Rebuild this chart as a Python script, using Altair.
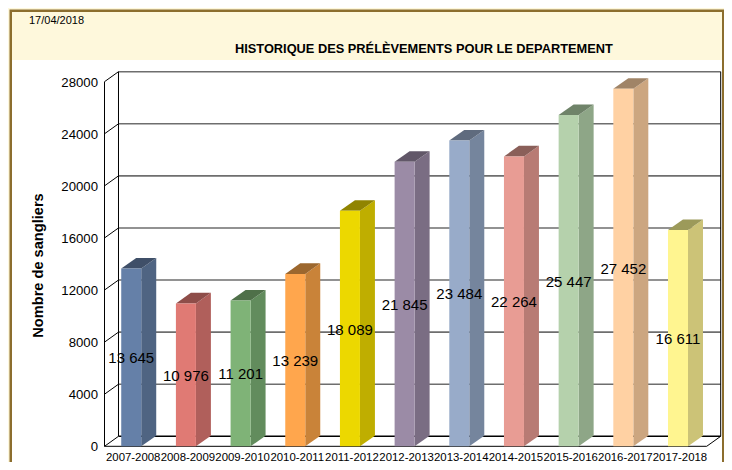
import altair as alt
import pandas as pd

SEASONS = ["2007-2008", "2008-2009", "2009-2010", "2010-2011", "2011-2012", "2012-2013",
           "2013-2014", "2014-2015", "2015-2016", "2016-2017", "2017-2018"]
VALUES = [13645, 10976, 11201, 13239, 18089, 21845, 23484, 22264, 25447, 27452, 16611]
FRONT = ["#6580a8", "#e07a74", "#7fb377", "#ffa64d", "#ecd800", "#9b8ba6",
         "#98abc9", "#e89c94", "#b5d1ac", "#ffd1a3", "#fff590"]
SIDE = ["#4f6482", "#b05f5b", "#628c5d", "#c98339", "#bfae00", "#7a6d83",
        "#75859d", "#b87b74", "#8ea687", "#cca680", "#ccc377"]
TOP = ["#3f4f68", "#8e4d49", "#4f7049", "#9c672e", "#908400", "#615768",
       "#5f6b7e", "#8a5f59", "#6f8369", "#a08467", "#9c9a5a"]
Y_TICKS = [0, 4000, 8000, 12000, 16000, 20000, 24000, 28000]

CREAM = "#fef8dc"
BROWN = "#8c6e2e"
FONT = "Liberation Sans"

# geometry in data units: one category = 1 x unit
X_MAX = 11.27
Y_MAX = 28768
WALL_DX, WALL_DY = 0.256, 768
BAR_OFF, BAR_W = 0.306, 0.366
DEPTH_X, DEPTH_Y = 0.274, 810
N = len(SEASONS)
FLOOR_END = X_MAX - WALL_DX
LABEL_SHIFT = 0.525

x_scale = alt.Scale(domain=[0, X_MAX], range=[96.5, 712.7], nice=False, zero=False)
y_scale = alt.Scale(domain=[0, Y_MAX], range=[438.3, 63.7], nice=False, zero=False)


def X(field="x", **kw):
    kw.setdefault("axis", None)
    return alt.X(field, type="quantitative", scale=x_scale, **kw)


def Y(field="y", **kw):
    kw.setdefault("axis", None)
    return alt.Y(field, type="quantitative", scale=y_scale, stack=None, **kw)


def box(x0, x1, y0, y1, color):
    return alt.Chart(alt.Data(values=[{"a": 1}])).mark_rect(color=color).encode(
        x=alt.value(x0), x2=alt.value(x1), y=alt.value(y0), y2=alt.value(y1))


def txt(s, x, y, size, **kw):
    return alt.Chart(alt.Data(values=[{"t": s}])).mark_text(
        font=FONT, fontSize=size, color="#000000", baseline="middle", **kw
    ).encode(x=alt.value(x), y=alt.value(y), text="t:N")


side_rows, top_rows, front_rows = [], [], []
for i, v in enumerate(VALUES):
    x0 = i + BAR_OFF
    x1 = x0 + BAR_W
    front_rows.append(dict(x=x0, x2=x1, y=0, y2=v, c=FRONT[i], s=SEASONS[i], m=x0 + BAR_W / 2, h=v / 2,
                           t=f"{v:,}".replace(",", " "), lx=i + LABEL_SHIFT))
    side_rows += [dict(x=x1, y=0, y2=v, c=SIDE[i], k=i),
                  dict(x=x1 + DEPTH_X, y=DEPTH_Y, y2=v + DEPTH_Y, c=SIDE[i], k=i)]
    top_rows += [dict(x=x0, y=v, y2=v, c=TOP[i], k=i),
                 dict(x=x0 + DEPTH_X, y=v, y2=v + DEPTH_Y, c=TOP[i], k=i),
                 dict(x=x1, y=v, y2=v + DEPTH_Y, c=TOP[i], k=i),
                 dict(x=x1 + DEPTH_X, y=v + DEPTH_Y, y2=v + DEPTH_Y, c=TOP[i], k=i)]

front_df = pd.DataFrame(front_rows)
side_df = pd.DataFrame(side_rows)
top_df = pd.DataFrame(top_rows)
tick_df = pd.DataFrame({"y": Y_TICKS, "t": [str(t) for t in Y_TICKS]})

grid_df = pd.DataFrame([dict(x=WALL_DX, x2=X_MAX, y=t + WALL_DY, y2=t + WALL_DY) for t in Y_TICKS[1:]])
diag_df = pd.DataFrame([dict(x=0, x2=WALL_DX, y=t, y2=t + WALL_DY) for t in Y_TICKS])
frame_df = pd.DataFrame([
    dict(x=0, x2=0, y=0, y2=Y_TICKS[-1]),
    dict(x=WALL_DX, x2=WALL_DX, y=WALL_DY, y2=Y_TICKS[-1] + WALL_DY),
    dict(x=X_MAX, x2=X_MAX, y=WALL_DY, y2=Y_TICKS[-1] + WALL_DY),
    dict(x=0, x2=FLOOR_END, y=0, y2=0),
    dict(x=FLOOR_END, x2=X_MAX, y=0, y2=WALL_DY),
])
floor_df = pd.DataFrame([dict(x=WALL_DX, x2=X_MAX, y=WALL_DY, y2=WALL_DY)])


def rules(df, color, width):
    return alt.Chart(df).mark_rule(color=color, strokeWidth=width).encode(x=X(), x2="x2:Q", y=Y(), y2="y2:Q")


def faces(df):
    return alt.Chart(df).mark_area(interpolate="linear", opacity=1).encode(
        x=X(), y=Y(), y2="y2:Q", color=alt.Color("c:N", scale=None), detail="k:N")


fronts = alt.Chart(front_df).mark_rect().encode(
    x=X(), x2="x2:Q", y=Y(), y2="y2:Q", color=alt.Color("c:N", scale=None))
labels = alt.Chart(front_df).mark_text(font=FONT, fontSize=15, color="#000000", baseline="middle", dy=1).encode(
    x=X("m"), y=Y("h"), text="t:N")
x_labels = alt.Chart(front_df).mark_text(font=FONT, fontSize=11.4, color="#000000", baseline="middle").encode(
    x=X("lx"), y=alt.value(450), text="s:N")
y_labels = alt.Chart(tick_df).mark_text(font=FONT, fontSize=13.2, color="#000000", baseline="middle",
                                        align="right", dy=1).encode(
    x=alt.value(90), y=Y("y"), text="t:N")

chart = alt.layer(
    box(1.5, 716, 1.5, 454, BROWN),
    box(4, 714, 4, 52, CREAM),
    box(4, 714, 52, 454, "#ffffff"),
    rules(grid_df, "#6e6e6e", 1.6),
    rules(diag_df, "#000000", 1),
    rules(frame_df, "#000000", 1),
    rules(floor_df, "#000000", 1.6),
    faces(side_df),
    faces(top_df),
    fronts,
    labels,
    x_labels,
    y_labels,
    txt("Nombre de sangliers", 30.5, 257.5, 14.6, fontWeight="bold", angle=270),
    txt("17/04/2018", 21, 13, 11, align="left"),
).properties(
    width=716,
    height=454,
    padding=0,
    autosize=alt.AutoSizeParams(type="none"),
    background=CREAM,
    title=alt.TitleParams("HISTORIQUE DES PRÉLÈVEMENTS POUR LE DEPARTEMENT", font=FONT, fontSize=12.8,
                          fontWeight="bold", color="#000000", anchor="start", frame="group",
                          orient="top", offset=-58, dx=227, baseline="alphabetic"),
).configure_view(stroke=None)

chart.save("out.html", embed_options={"renderer": "svg", "actions": False})
